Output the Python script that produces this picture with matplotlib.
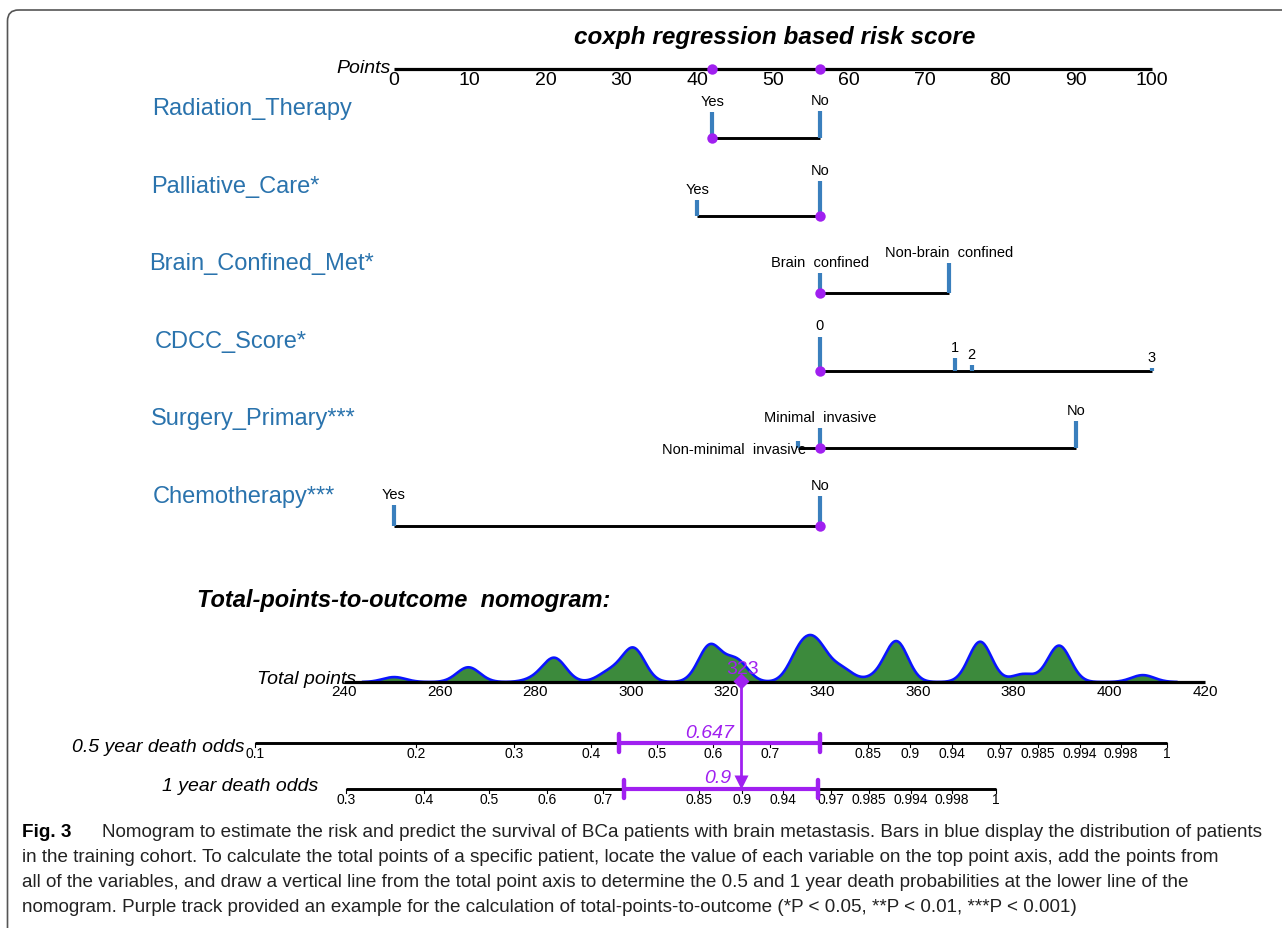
import numpy as np
import matplotlib
matplotlib.use("Agg")
import matplotlib.pyplot as plt
from matplotlib.patches import FancyBboxPatch

# ---------------- DATA ----------------
title = "coxph regression based risk score"
variables = ["Radiation_Therapy", "Palliative_Care*", "Brain_Confined_Met*",
             "CDCC_Score*", "Surgery_Primary***", "Chemotherapy***"]
levels = [["Yes", "No"],
          ["Yes", "No"],
          ["Brain  confined", "Non-brain  confined"],
          ["0", "1", "2", "3"],
          ["Non-minimal  invasive", "Minimal  invasive", "No"],
          ["Yes", "No"]]
level_points = [[42.0, 56.2],
                [40.0, 56.2],
                [56.2, 73.2],
                [56.2, 74.0, 76.2, 100.0],
                [53.3, 56.2, 90.0],
                [0.0, 56.2]]
# relative share of patients in each level (bar height)
level_freq = [[0.74, 0.77],
              [0.46, 1.00],
              [0.57, 0.85],
              [0.98, 0.37, 0.16, 0.08],
              [0.20, 0.57, 0.77],
              [0.60, 0.86]]
selected = [0, 1, 0, 0, 1, 1]          # example patient (purple track)

points_ticks = [0, 10, 20, 30, 40, 50, 60, 70, 80, 90, 100]
total_ticks = [240, 260, 280, 300, 320, 340, 360, 380, 400, 420]
total_example = 323

# distribution of total points in the training cohort (levels and weights)
tp_levels = [250.5, 266, 280, 284, 295.5, 300.5, 316.5, 322, 335.5, 339, 344,
             351, 355.5, 373, 382, 389.5, 407]
tp_weights = [5, 15, 3, 24, 10, 34, 37, 22, 30, 32, 13, 4, 41, 41, 8, 37, 7]

half_labels = ["0.1", "0.2", "0.3", "0.4", "0.5", "0.6", "0.7", "0.85", "0.9",
               "0.94", "0.97", "0.985", "0.994", "0.998", "1"]
half_pos = [221.4, 255.1, 275.5, 291.6, 305.4, 317.1, 329.1, 349.6, 358.3,
            367.1, 377.2, 385.1, 393.9, 402.4, 412.1]
one_labels = ["0.3", "0.4", "0.5", "0.6", "0.7", "0.85", "0.9", "0.94", "0.97",
              "0.985", "0.994", "0.998", "1"]
one_pos = [240.4, 256.7, 270.3, 282.4, 294.2, 314.2, 323.2, 331.8, 341.8,
           349.8, 358.5, 367.1, 376.3]
half_value, half_ci = "0.647", [297.5, 339.5]
one_value, one_ci = "0.9", [298.5, 339.1]

caption_bold = "Fig. 3"
caption_lines = [
    "Nomogram to estimate the risk and predict the survival of BCa patients with brain metastasis. Bars in blue display the distribution of patients",
    "in the training cohort. To calculate the total points of a specific patient, locate the value of each variable on the top point axis, add the points from",
    "all of the variables, and draw a vertical line from the total point axis to determine the 0.5 and 1 year death probabilities at the lower line of the",
    "nomogram. Purple track provided an example for the calculation of total-points-to-outcome (*P < 0.05, **P < 0.01, ***P < 0.001)",
]

# ---------------- STYLE ----------------
W, H = 1282, 929
PURPLE = "#a020f0"
BAR_BLUE = "#3a7fbd"
LABEL_BLUE = "#2a73ad"
GREEN = "#3c8a3c"
plt.rcParams['font.family'] = ['Liberation Sans', 'DejaVu Sans']
cap_size = 13.6

fig = plt.figure(figsize=(W / 100, H / 100), dpi=100)


def make_ax(v0, p0, v1, p1):
    ax = fig.add_axes([0, 0, 1, 1])
    s = (p1 - p0) / (v1 - v0)
    ax.set_xlim(v0 - p0 / s, v0 + (W - p0) / s)
    ax.set_ylim(H, 0)
    ax.axis('off')
    ax.patch.set_alpha(0)
    return ax


# frame and caption in pixel space
axp = make_ax(0, 0, W, W)
axp.add_patch(FancyBboxPatch((7.5, 11), 1400, 1000, boxstyle="round,pad=0,rounding_size=11",
                             fc='none', ec='#555555', lw=1.2))
axp.text(775, 37, title, fontsize=17.5, fontweight='bold', fontstyle='italic',
         ha='center', va='center')
axp.text(197, 600, "Total-points-to-outcome  nomogram:", fontsize=17, fontweight='bold',
         fontstyle='italic', ha='left', va='center')
cap_y = [833, 858, 883, 908]
axp.text(22, cap_y[0], caption_bold, fontsize=cap_size, fontweight='bold',
         ha='left', va='center')
for i, line in enumerate(caption_lines):
    axp.text(102 if i == 0 else 22, cap_y[i], line, fontsize=cap_size,
             ha='left', va='center', color='#222222')

# ---------------- POINTS SECTION ----------------
PX = 7.58
ax = make_ax(0, 394, 100, 1152)
AXIS_Y = 70
ax.plot([points_ticks[0], points_ticks[-1]], [AXIS_Y, AXIS_Y], color='black', lw=2.3,
        solid_capstyle='butt')
for t in points_ticks:
    ax.text(t, 80, str(t), fontsize=14, ha='center', va='center')
ax.text(-0.4, 68, "Points", fontsize=14, fontstyle='italic', ha='right', va='center')

row_y0, row_dy = 139, 77.6
BAR_SCALE = 35
var_label_px = [152, 151, 149, 155, 151, 153]
label_offsets = {(4, 0): (8, 8, 'right')}
sel_pts = []
for i, (var, levs, pts, fr) in enumerate(zip(variables, levels, level_points, level_freq)):
    y = row_y0 + i * row_dy
    ax.text((var_label_px[i] - 394) / PX, y - 30, var, fontsize=17, color=LABEL_BLUE,
            ha='left', va='center')
    ax.plot([min(pts), max(pts)], [y, y], color='black', lw=2.1, solid_capstyle='butt', zorder=2)
    for j, (lv, p, f) in enumerate(zip(levs, pts, fr)):
        top = y - f * BAR_SCALE
        ax.plot([p, p], [y, top], color=BAR_BLUE, lw=3.0, solid_capstyle='butt', zorder=3)
        dx, dy, ha = label_offsets.get((i, j), (0, -11, 'center'))
        ax.text(p + dx / PX, top + dy, lv, fontsize=10.5, ha=ha, va='center')
    sp = pts[selected[i]]
    sel_pts.append(sp)
    ax.plot([sp], [y], 'o', color=PURPLE, ms=7.5, mec='none', zorder=5)
for sp in sorted(set(sel_pts)):
    ax.plot([sp], [AXIS_Y], 'o', color=PURPLE, ms=7.5, mec='none', zorder=5)

# ---------------- TOTAL POINTS SECTION ----------------
TPX = (1205 - 344) / 180.0
ax2 = make_ax(240, 344, 420, 1205)
TOT_Y = 683
xs = np.linspace(244, 414, 900)
lv = np.array(tp_levels)[:, None]
wt = np.array(tp_weights)[:, None]
dens = (wt * np.exp(-0.5 * ((xs[None, :] - lv) / 2.4) ** 2)).sum(axis=0)
dens = dens / dens.max() * 47
ax2.fill_between(xs, TOT_Y, TOT_Y - dens, color=GREEN, lw=0, zorder=1)
ax2.plot(xs, TOT_Y - dens, color='#0a14ff', lw=1.9, zorder=2)
ax2.plot([total_ticks[0], total_ticks[-1]], [TOT_Y, TOT_Y], color='black', lw=2.3,
         solid_capstyle='butt', zorder=3)
for t in total_ticks:
    ax2.text(t, 692, str(t), fontsize=11, ha='center', va='center', zorder=4)
ax2.text(240 + (356 - 344) / TPX, 679, "Total points", fontsize=14, fontstyle='italic',
         ha='right', va='center')

# probability axes
HALF_Y, ONE_Y = 744, 790
for labels, pos, y in [(half_labels, half_pos, HALF_Y), (one_labels, one_pos, ONE_Y)]:
    ax2.plot([pos[0], pos[-1]], [y, y], color='black', lw=2.1, solid_capstyle='butt', zorder=2)
    for lab, p in zip(labels, pos):
        ax2.plot([p, p], [y, y + 4], color='black', lw=0.8, zorder=2)
        ax2.text(p, y + 10, lab, fontsize=10, ha='center', va='center', zorder=3)
ax2.text(240 + (245 - 344) / TPX, 748, "0.5 year death odds", fontsize=14, fontstyle='italic',
         ha='right', va='center')
ax2.text(240 + (318 - 344) / TPX, 787, "1 year death odds", fontsize=14, fontstyle='italic',
         ha='right', va='center')

# purple track
ax2.plot([total_example, total_example], [TOT_Y, ONE_Y - 6], color=PURPLE, lw=2.0, zorder=6)
ax2.plot([total_example], [ONE_Y - 7], 'v', color=PURPLE, ms=10, mec='none', zorder=6)
ax2.plot([total_example], [TOT_Y - 1], 'D', color=PURPLE, ms=8, mec='none', zorder=6)
ax2.text(total_example + 0.3, 670, str(total_example), fontsize=14, color=PURPLE,
         ha='center', va='center', zorder=7)
for ci, y, val, vx, vy in [(half_ci, HALF_Y, half_value, 316.5, 734),
                           (one_ci, ONE_Y, one_value, 318.2, 779)]:
    ax2.plot(ci, [y, y], color=PURPLE, lw=3.0, solid_capstyle='butt', zorder=5)
    for c in ci:
        ax2.plot([c, c], [y - 9, y + 9], color=PURPLE, lw=3.2, solid_capstyle='round', zorder=5)
    ax2.text(vx, vy, val, fontsize=14, fontstyle='italic', color=PURPLE, ha='center',
             va='center', zorder=7)

fig.savefig("out.png", dpi=100)
